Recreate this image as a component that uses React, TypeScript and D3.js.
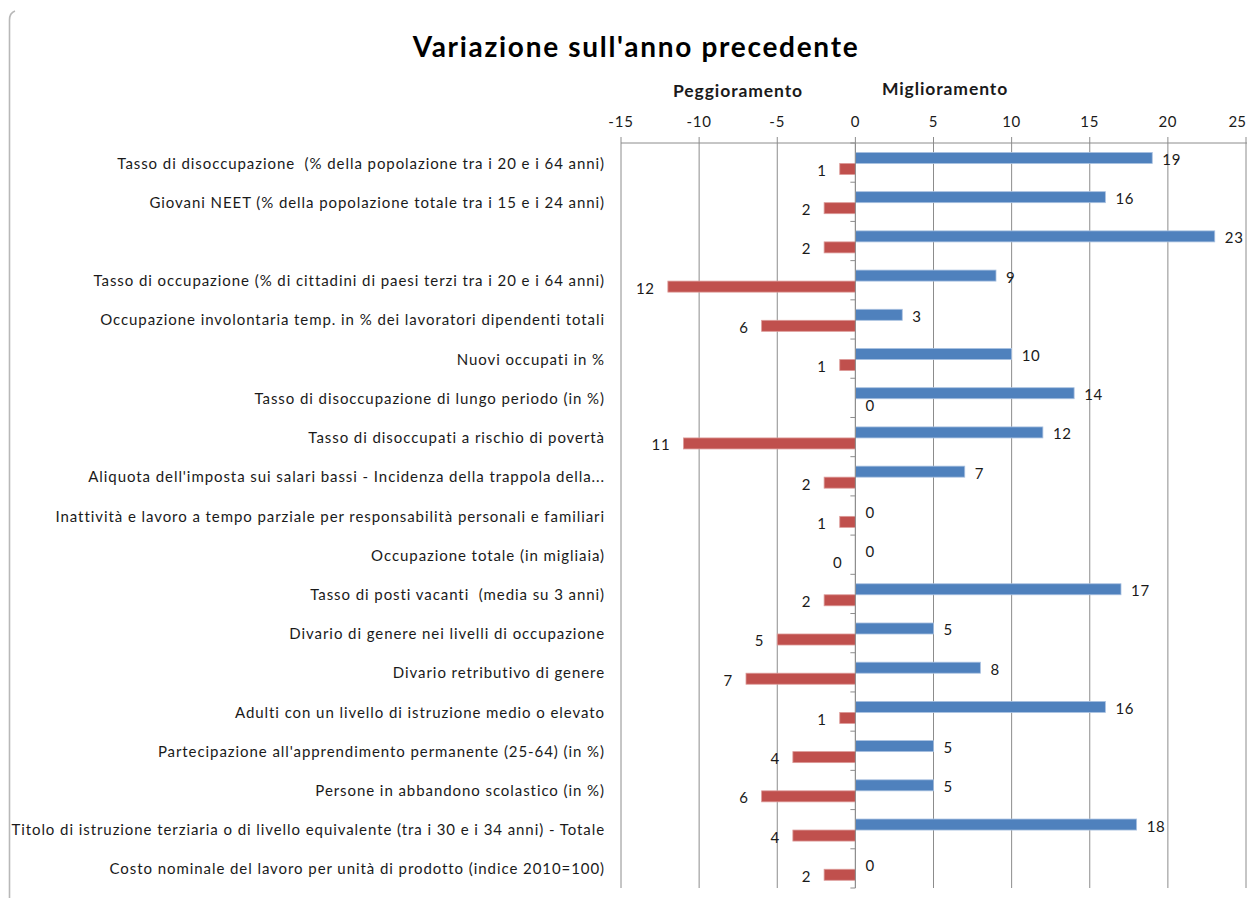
import React from "react";
import * as d3 from "d3";

const categories: string[] = [
  "Tasso di disoccupazione  (% della popolazione tra i 20 e i 64 anni)",
  "Giovani NEET (% della popolazione totale tra i 15 e i 24 anni)",
  "",
  "Tasso di occupazione (% di cittadini di paesi terzi tra i 20 e i 64 anni)",
  "Occupazione involontaria temp. in % dei lavoratori dipendenti totali",
  "Nuovi occupati in %",
  "Tasso di disoccupazione di lungo periodo (in %)",
  "Tasso di disoccupati a rischio di povertà",
  "Aliquota dell'imposta sui salari bassi - Incidenza della trappola della...",
  "Inattività e lavoro a tempo parziale per responsabilità personali e familiari",
  "Occupazione totale (in migliaia)",
  "Tasso di posti vacanti  (media su 3 anni)",
  "Divario di genere nei livelli di occupazione",
  "Divario retributivo di genere",
  "Adulti con un livello di istruzione medio o elevato",
  "Partecipazione all'apprendimento permanente (25-64) (in %)",
  "Persone in abbandono scolastico (in %)",
  "Titolo di istruzione terziaria o di livello equivalente (tra i 30 e i 34 anni) - Totale",
  "Costo nominale del lavoro per unità di prodotto (indice 2010=100)",
];

// Miglioramento (improvement)
const improvement: number[] = [19, 16, 23, 9, 3, 10, 14, 12, 7, 0, 0, 17, 5, 8, 16, 5, 5, 18, 0];
// Peggioramento (worsening); -0 marks a zero worsening
const worsening: number[] = [-1, -2, -2, -12, -6, -1, 0, -11, -2, -1, -0, -2, -5, -7, -1, -4, -6, -4, -2];

const xDomain: [number, number] = [-15, 25];
const tickValues: number[] = [-15, -10, -5, 0, 5, 10, 15, 20, 25];

const title = "Variazione sull'anno precedente";
const leftHeader = "Peggioramento";
const rightHeader = "Miglioramento";

const W = 1247;
const H = 898;
const BLUE = "#4F81BD";
const RED = "#C0504D";
const GRID = "#8c8c8c";
const TEXT = "#1a1a1a";
const FONT = "Lato, 'Open Sans', sans-serif";

export default function App() {
  const x = d3.scaleLinear().domain(xDomain).range([621, 1246]);
  const idx = categories.map((_, i) => i);
  const y0 = d3.scaleBand<number>().domain(idx).range([143, 888]).padding(0);
  const y1 = d3
    .scaleBand<string>()
    .domain(["pos", "neg"])
    .range([0, y0.bandwidth()])
    .paddingInner(0)
    .paddingOuter(0.78)
    .align(0.55);
  const bh = y1.bandwidth();
  const zero = x(0);
  const axisY = 143;
  const bottom = 888;

  const isNegSide = (v: number) => v < 0 || Object.is(v, -0);

  return (
    <svg
      width={W}
      height={H}
      style={{ position: "fixed", left: 0, top: 0, background: "#fff" }}
      fontFamily={FONT}
    >
      <rect x={0} y={0} width={W} height={H} fill="#fff" />
      {/* chart frame fragment */}
      <path d="M9.5,898 V20 Q9.5,13 15,11" fill="none" stroke="#b8b8b8" strokeWidth={1.6} />

      {/* title */}
      <text x={636} y={46} textAnchor="middle" dominantBaseline="central" fontSize={28} fontWeight={700} letterSpacing={1.7} fill="#000">
        {title}
      </text>
      <text x={738} y={90} textAnchor="middle" dominantBaseline="central" fontSize={17.5} fontWeight={700} letterSpacing={0.9} fill={TEXT}>
        {leftHeader}
      </text>
      <text x={945} y={88} textAnchor="middle" dominantBaseline="central" fontSize={17.5} fontWeight={700} letterSpacing={0.9} fill={TEXT}>
        {rightHeader}
      </text>

      {/* gridlines and top axis */}
      {tickValues.map((t, k) => {
        const last = k === tickValues.length - 1;
        return (
          <g key={t}>
            <line x1={x(t)} x2={x(t)} y1={axisY - 6} y2={bottom} stroke={GRID} strokeWidth={1} />
            <text
              x={last ? W - 1 : x(t)}
              y={121}
              textAnchor={last ? "end" : "middle"}
              dominantBaseline="central"
              fontSize={15}
              letterSpacing={last ? 0 : 0.8}
              fill={TEXT}
            >
              {String(t)}
            </text>
          </g>
        );
      })}
      <line x1={x(xDomain[0])} x2={W} y1={axisY} y2={axisY} stroke={GRID} strokeWidth={1} />

      {/* category ticks on zero axis */}
      {[...idx, categories.length].map((i) => {
        const yy = i < categories.length ? (y0(i) as number) : bottom;
        return <line key={"t" + i} x1={zero - 5} x2={zero} y1={yy} y2={yy} stroke={GRID} strokeWidth={1} />;
      })}

      {/* category labels */}
      {categories.map((c, i) => (
        <text
          key={"c" + i}
          x={605}
          y={(y0(i) as number) + y0.bandwidth() / 2}
          textAnchor="end"
          dominantBaseline="central"
          fontSize={15}
          letterSpacing={0.93}
          fill={TEXT}
          style={{ whiteSpace: "pre" }}
        >
          {c}
        </text>
      ))}

      {/* bars */}
      {idx.map((i) => {
        const top = y0(i) as number;
        const pv = improvement[i];
        const nv = worsening[i];
        const py = top + (y1("pos") as number);
        const ny = top + (y1("neg") as number);
        const pEnd = x(pv);
        const nEnd = x(nv);
        const nLeft = isNegSide(nv);
        return (
          <g key={"b" + i}>
            {pv !== 0 && (
              <rect x={zero} y={py} width={Math.max(0, pEnd - zero)} height={bh} fill={BLUE} stroke="#a9c1e0" strokeWidth={0.8} />
            )}
            {nv !== 0 && (
              <rect x={Math.min(nEnd, zero)} y={ny} width={Math.abs(zero - nEnd)} height={bh} fill={RED} stroke="#dc9a98" strokeWidth={0.8} />
            )}
            <text x={pEnd + 10} y={py + bh / 2 + 1} dominantBaseline="central" fontSize={15} letterSpacing={0.8} fill={TEXT}>
              {String(Math.abs(pv))}
            </text>
            <text
              x={nLeft ? nEnd - 13 : nEnd + 10}
              y={ny + bh / 2 + 1}
              textAnchor={nLeft ? "end" : "start"}
              dominantBaseline="central"
              fontSize={15}
              letterSpacing={0.8}
              fill={TEXT}
            >
              {String(Math.abs(nv))}
            </text>
          </g>
        );
      })}
      <line x1={zero} x2={zero} y1={axisY} y2={bottom} stroke={GRID} strokeWidth={1} />
    </svg>
  );
}
